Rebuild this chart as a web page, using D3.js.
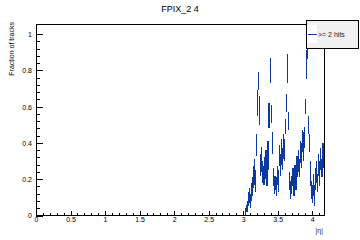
<!DOCTYPE html>
<html><head><meta charset="utf-8">
<script src="https://cdn.jsdelivr.net/npm/d3@7"></script>
<style>body{margin:0;background:#fff}svg{display:block}text{font-family:"Liberation Sans",Arial,Helvetica,sans-serif}</style>
</head><body>
<script>
const etaCenters = [3.030,3.045,3.060,3.075,3.090,3.105,3.120,3.135,3.150,3.165,3.180,3.195,3.210,3.225,3.240,3.255,3.270,3.285,3.300,3.315,3.330,3.345,3.360,3.375,3.390,3.405,3.420,3.435,3.450,3.465,3.480,3.495,3.510,3.525,3.540,3.555,3.570,3.585,3.600,3.615,3.630,3.645,3.660,3.675,3.690,3.705,3.720,3.735,3.750,3.765,3.780,3.795,3.810,3.825,3.840,3.855,3.870,3.885,3.900,3.915,3.930,3.945,3.960,3.975,3.990,4.005,4.020,4.035,4.050,4.065,4.080,4.095,4.110,4.125,4.140,4.155];
const fraction = [0.02,0.04,0.05,0.09,0.11,0.08,0.13,0.16,0.21,0.24,0.19,0.39,0.62,0.74,0.58,0.28,0.31,0.24,0.22,0.26,0.29,0.23,0.33,0.55,0.80,0.56,0.40,0.21,0.17,0.18,0.16,0.22,0.19,0.33,0.28,0.35,0.31,0.38,0.36,0.49,0.62,0.81,0.52,0.19,0.14,0.17,0.21,0.16,0.23,0.20,0.27,0.30,0.26,0.35,0.33,0.41,0.38,0.43,0.60,0.83,0.91,0.50,0.40,0.23,0.14,0.12,0.17,0.11,0.20,0.24,0.18,0.28,0.23,0.31,0.26,0.33];
const fractionErr = [0.02,0.02,0.03,0.04,0.04,0.04,0.05,0.05,0.06,0.07,0.06,0.06,0.07,0.05,0.08,0.06,0.07,0.06,0.05,0.06,0.07,0.07,0.08,0.07,0.07,0.05,0.06,0.05,0.05,0.04,0.05,0.05,0.06,0.06,0.06,0.07,0.06,0.07,0.06,0.04,0.05,0.08,0.05,0.05,0.05,0.05,0.05,0.05,0.05,0.06,0.06,0.06,0.05,0.06,0.07,0.06,0.08,0.06,0.04,0.08,0.05,0.05,0.05,0.07,0.05,0.05,0.06,0.06,0.06,0.06,0.05,0.06,0.07,0.06,0.05,0.07];
const binWidth = 0.015;
const xTicks = [0,0.5,1,1.5,2,2.5,3,3.5,4];
const yTicks = [0,0.2,0.4,0.6,0.8,1];
const title = "FPIX_2 4";
const xTitle = "|\u03b7|";
const yTitle = "Fraction of tracks";
const legendLabel = ">= 2 hits";

const W=360,H=240, L=36,R=324,T=24,B=215.5;
const col="#0a3a9e";
const svg=d3.select("body").append("svg").attr("width",W).attr("height",H);
const x=d3.scaleLinear().domain([0,4.17]).range([L,R]);
const y=d3.scaleLinear().domain([0,1.055]).range([B,T]);

// data
const g=svg.append("g").attr("stroke",col).attr("stroke-width",1.2).attr("fill","none").attr("shape-rendering","crispEdges");
etaCenters.forEach((e,i)=>{
  const v=fraction[i], er=fractionErr[i];
  g.append("line").attr("x1",x(e)).attr("x2",x(e)).attr("y1",y(Math.max(0,v-er))).attr("y2",y(v+er));
  g.append("line").attr("x1",x(e-binWidth/2)).attr("x2",x(e+binWidth/2)).attr("y1",y(v)).attr("y2",y(v));
});

// frame
svg.append("rect").attr("x",L).attr("y",T).attr("width",R-L).attr("height",B-T).attr("fill","none").attr("stroke","#000").attr("stroke-width",1).attr("shape-rendering","crispEdges");

// axes
const fmt=d=>d===0?"0":String(d);
const xa=svg.append("g").attr("transform",`translate(0,${B})`).call(d3.axisBottom(x).tickValues(xTicks).tickSize(-5).tickPadding(3).tickFormat(fmt));
svg.append("g").attr("transform",`translate(0,${B})`).call(d3.axisBottom(x).tickValues(d3.range(0,42).map(d=>d/10)).tickSize(-2.5).tickFormat(""));
const ya=svg.append("g").attr("transform",`translate(${L},0)`).call(d3.axisLeft(y).tickValues(yTicks).tickSize(-7).tickPadding(4).tickFormat(fmt));
svg.append("g").attr("transform",`translate(${L},0)`).call(d3.axisLeft(y).tickValues(d3.range(0,26).map(d=>d*0.04)).tickSize(-3.5).tickFormat(""));
svg.selectAll(".domain").remove();
svg.selectAll(".tick line").attr("stroke","#000").attr("shape-rendering","crispEdges");
svg.selectAll(".tick text").attr("font-size",7).attr("fill","#000").attr("font-family","Liberation Sans, Arial, sans-serif");
xa.selectAll(".tick text").attr("dy","0.5em");
ya.selectAll(".tick text").attr("dy","0.35em");

// titles
svg.append("text").attr("x",180).attr("y",12).attr("text-anchor","middle").attr("font-size",9).text(title);
svg.append("text").attr("x",R-1).attr("y",233).attr("text-anchor","end").attr("font-size",7).attr("fill","#333").text(xTitle);
svg.append("text").attr("transform",`translate(14,${T-2}) rotate(-90)`).attr("text-anchor","end").attr("font-size",7).text(yTitle);

// legend
const lg=svg.append("g");
lg.append("rect").attr("x",306).attr("y",20).attr("width",52).attr("height",28).attr("fill","#f0f0f0").attr("stroke","#000").attr("stroke-width",1).attr("shape-rendering","crispEdges");
lg.append("rect").attr("x",307).attr("y",25).attr("width",10).attr("height",18).attr("fill","#fff");
lg.append("line").attr("x1",308).attr("x2",317).attr("y1",34).attr("y2",34).attr("stroke",col).attr("stroke-width",1).attr("shape-rendering","crispEdges");
lg.append("text").attr("x",318).attr("y",36.5).attr("font-size",7).attr("fill","#222").text(legendLabel);
</script>
</body></html>
